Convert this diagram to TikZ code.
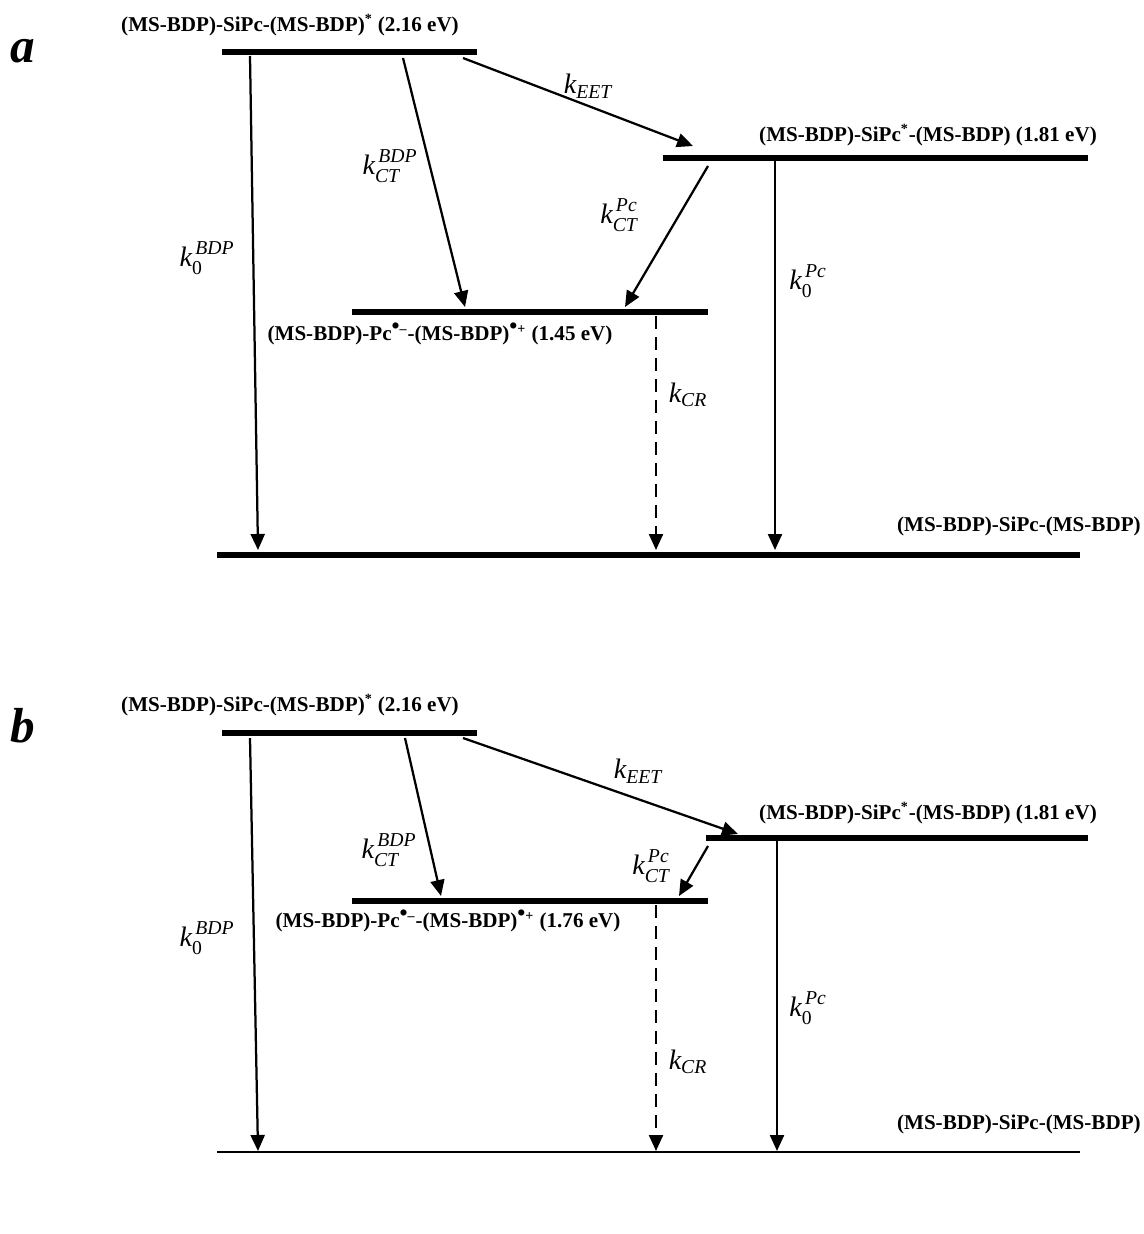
\documentclass[tikz,border=0pt]{standalone}
\usepackage{fontspec}
\setmainfont{Liberation Serif}
\usepackage{amsmath}
\usepackage{tikz}
\usetikzlibrary{arrows.meta,calc,positioning}
\tikzstyle{level}=[line width=0.11cm]
\tikzstyle{rate}=[line width=0.045cm, -{Triangle[length=0.32cm,width=0.28cm]}]
\tikzstyle{state}=[font=\fontsize{12}{14}\selectfont\bfseries, inner sep=0pt]
\tikzstyle{kname}=[font=\fontsize{16}{18}\selectfont, inner sep=0pt]
\tikzstyle{panel}=[font=\fontsize{28}{30}\selectfont\bfseries\itshape, inner sep=0pt]
\newcommand{\kr}[2]{$\textit{k}^{\,\textit{#2}}_{\textit{#1}}$}
\newcommand{\kz}[1]{$\textit{k}^{\,\textit{#1}}_{\text{0}}$}
\newcommand{\ks}[1]{$\textit{k}_{\textit{#1}}$}
\newcommand{\rad}[1]{\textsuperscript{{\fontsize{13}{13}\selectfont•}#1}}

\begin{document}
\begin{tikzpicture}[x=0.02cm, y=-0.02cm]
  \useasboundingbox (0,0) rectangle (1143,1234);

  \node(pa)[panel, anchor=base west] at (10,62) {a};
  \coordinate (Sa1) at (222,52);  \coordinate (Sa2) at (477,52);
  \coordinate (Pa1) at (663,158); \coordinate (Pa2) at (1088,158);
  \coordinate (Ca1) at (352,312); \coordinate (Ca2) at (708,312);
  \coordinate (Ga1) at (217,555); \coordinate (Ga2) at (1080,555);
  \draw[level] (Sa1) -- (Sa2);
  \draw[level] (Pa1) -- (Pa2);
  \draw[level] (Ca1) -- (Ca2);
  \draw[level] (Ga1) -- (Ga2);

  \path(Sa1)+(68,-27) node(sa)[state]{(MS-BDP)-SiPc-(MS-BDP)\textsuperscript{*} (2.16 eV)};
  \path(Pa1)+(265,-23) node(pca)[state]{(MS-BDP)-SiPc\textsuperscript{*}-(MS-BDP) (1.81 eV)};
  \path(Ca1)+(88,22) node(cta)[state]{(MS-BDP)-Pc\rad{–}-(MS-BDP)\rad{+} (1.45 eV)};
  \path(Ga2)+(61,-29) node(ga)[state, anchor=east]{(MS-BDP)-SiPc-(MS-BDP)};

  \coordinate (a1) at (250,56);  \coordinate (a1e) at (258,550);
  \coordinate (a2) at (403,58);  \coordinate (a2e) at (465,307);
  \coordinate (a3) at (463,58);  \coordinate (a3e) at (693,146);
  \coordinate (a4) at (708,166); \coordinate (a4e) at (625,307);
  \coordinate (a5) at (775,158); \coordinate (a5e) at (775,550);
  \coordinate (a6) at (656,316); \coordinate (a6e) at (656,550);
  \draw[rate] (a1) -- (a1e);
  \draw[rate] (a2) -- (a2e);
  \draw[rate] (a3) -- (a3e);
  \draw[rate] (a4) -- (a4e);
  \draw[rate] (a5) -- (a5e);
  \draw[rate, dash pattern=on 0.26cm off 0.16cm] (a6) -- (a6e);

  \node(keeta)[kname] at (588,86) {\ks{EET}};
  \node(kctba)[kname] at (390,166) {\kr{CT}{BDP}};
  \node(k0ba)[kname] at (207,258) {\kz{BDP}};
  \node(kctpa)[kname] at (619,215) {\kr{CT}{Pc}};
  \node(k0pa)[kname] at (808,281) {\kz{Pc}};
  \node(kcra)[kname] at (688,395) {\ks{CR}};

  \node(pb)[panel, anchor=base west] at (10,742) {b};
  \coordinate (Sb1) at (222,733); \coordinate (Sb2) at (477,733);
  \coordinate (Pb1) at (706,838); \coordinate (Pb2) at (1088,838);
  \coordinate (Cb1) at (352,901); \coordinate (Cb2) at (708,901);
  \coordinate (Gb1) at (217,1152); \coordinate (Gb2) at (1080,1152);
  \draw[level] (Sb1) -- (Sb2);
  \draw[level] (Pb1) -- (Pb2);
  \draw[level] (Cb1) -- (Cb2);
  \draw[line width=0.03cm] (Gb1) -- (Gb2);

  \path(Sb1)+(68,-28) node(sb)[state]{(MS-BDP)-SiPc-(MS-BDP)\textsuperscript{*} (2.16 eV)};
  \path(Pb1)+(222,-25) node(pcb)[state]{(MS-BDP)-SiPc\textsuperscript{*}-(MS-BDP) (1.81 eV)};
  \path(Cb1)+(96,20) node(ctb)[state]{(MS-BDP)-Pc\rad{–}-(MS-BDP)\rad{+} (1.76 eV)};
  \path(Gb2)+(61,-28) node(gb)[state, anchor=east]{(MS-BDP)-SiPc-(MS-BDP)};

  \coordinate (b1) at (250,738);  \coordinate (b1e) at (258,1151);
  \coordinate (b2) at (405,738);  \coordinate (b2e) at (441,896);
  \coordinate (b3) at (463,738);  \coordinate (b3e) at (738,834);
  \coordinate (b4) at (708,846);  \coordinate (b4e) at (679,896);
  \coordinate (b5) at (777,838);  \coordinate (b5e) at (777,1151);
  \coordinate (b6) at (656,905);  \coordinate (b6e) at (656,1151);
  \draw[rate] (b1) -- (b1e);
  \draw[rate] (b2) -- (b2e);
  \draw[rate] (b3) -- (b3e);
  \draw[rate] (b4) -- (b4e);
  \draw[rate] (b5) -- (b5e);
  \draw[rate, dash pattern=on 0.26cm off 0.16cm] (b6) -- (b6e);

  \node(keetb)[kname] at (638,771) {\ks{EET}};
  \node(kctbb)[kname] at (389,850) {\kr{CT}{BDP}};
  \node(k0bb)[kname] at (207,938) {\kz{BDP}};
  \node(kctpb)[kname] at (651,866) {\kr{CT}{Pc}};
  \node(k0pb)[kname] at (808,1008) {\kz{Pc}};
  \node(kcrb)[kname] at (688,1062) {\ks{CR}};
\end{tikzpicture}
\end{document}
